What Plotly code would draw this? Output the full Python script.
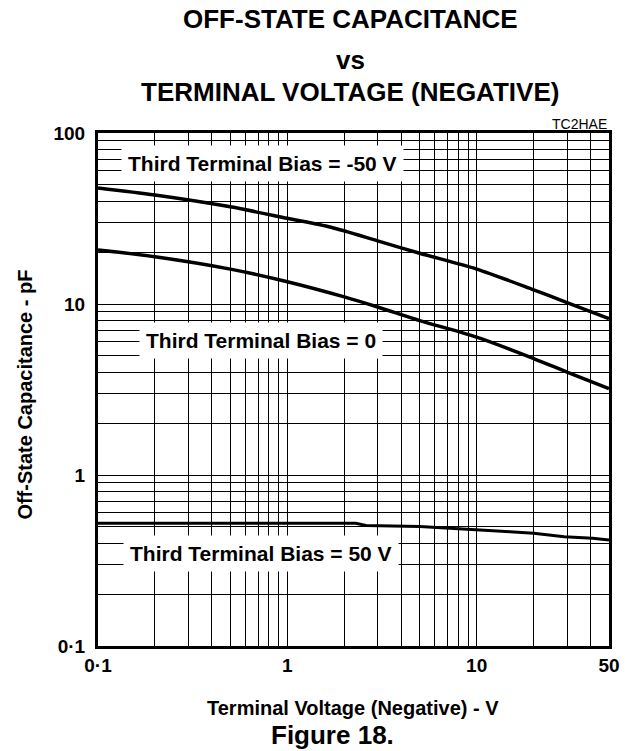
import plotly.graph_objects as go

# (log-log)
v_neg50 = [0.1, 0.2, 0.5, 1, 1.7, 3, 5, 10, 20, 30, 50]
c_neg50 = [47.7, 43.4, 37.0, 31.7, 28.1, 23.4, 19.8, 16.0, 12.1, 10.2, 8.2]

v_zero = [0.1, 0.2, 0.5, 1, 2, 3, 5, 10, 20, 30, 50]
c_zero = [20.7, 18.9, 16.0, 13.5, 11.0, 9.6, 8.0, 6.4, 4.8, 4.0, 3.2]

v_pos50 = [0.1, 1, 2.3, 2.6, 5, 8, 11, 15, 20, 29, 41, 50]
c_pos50 = [0.522, 0.522, 0.522, 0.507, 0.499, 0.485, 0.477, 0.466, 0.456, 0.435, 0.426, 0.417]

x_grid = [0.1, 0.2, 0.3, 0.4, 0.5, 0.6, 0.7, 0.8, 0.9,
          1, 2, 3, 4, 5, 6, 7, 8, 9,
          10, 20, 30, 40, 50]
x_labels = {0.1: '0·1', 1: '1', 10: '10', 50: '50'}
y_grid = [m * d for d in (0.1, 1, 10) for m in range(1, 10)] + [100]
y_labels = {0.1: '0·1', 1: '1', 10: '10', 100: '100'}

font = 'Liberation Sans, Arial, sans-serif'

fig = go.Figure()
for xs, ys, w, shape in [(v_neg50, c_neg50, 3.5, 'spline'), (v_zero, c_zero, 3.5, 'spline'),
                         (v_pos50, c_pos50, 3, 'linear')]:
    fig.add_trace(go.Scatter(x=xs, y=ys, mode='lines',
                             line=dict(color='black', width=w, shape=shape, smoothing=0.8),
                             showlegend=False, hoverinfo='skip'))

fig.update_xaxes(type='log', range=[-1, 1.69897], automargin=False,
                 tickvals=x_grid,
                 ticktext=[x_labels.get(round(v, 6), '') for v in x_grid],
                 showgrid=True, gridcolor='black', gridwidth=1,
                 showline=True, linecolor='black', linewidth=3, mirror=True,
                 ticks='', zeroline=False,
                 tickfont=dict(family=font, size=19, color='black', weight='bold'))
fig.update_yaxes(type='log', range=[-1, 2], automargin=False,
                 tickvals=y_grid,
                 ticktext=[y_labels.get(round(v, 6), '') for v in y_grid],
                 showgrid=True, gridcolor='black', gridwidth=1,
                 showline=True, linecolor='black', linewidth=3, mirror=True,
                 ticks='', zeroline=False, ticklabelstandoff=6,
                 tickfont=dict(family=font, size=19, color='black', weight='bold'))

bold = dict(family=font, color='black', weight='bold')

def px_y(p):
    return (646 - p) / 513.0

def px_x(p):
    return (p - 97.5) / 511.8

labels = [
    ('Third Terminal Bias = -50 V', 262, 163),
    ('Third Terminal Bias = 0', 261, 340.5),
    ('Third Terminal Bias = 50 V', 261, 553),
]
for txt, cx, cy in labels:
    fig.add_annotation(text=txt, xref='paper', yref='paper', x=px_x(cx), y=px_y(cy),
                       xanchor='center', yanchor='middle',
                       showarrow=False, bgcolor='white', borderpad=6,
                       font=dict(size=21, **bold))

titles = [
    ('OFF-STATE CAPACITANCE', 19, 26),
    ('vs', 60, 26),
    ('TERMINAL VOLTAGE (NEGATIVE)', 92.5, 26),
]
for txt, cy, sz in titles:
    fig.add_annotation(text=txt, xref='paper', yref='paper', x=px_x(350), y=px_y(cy),
                       xanchor='center', yanchor='middle',
                       showarrow=False, font=dict(size=sz, **bold))

fig.add_annotation(text='TC2HAE', xref='paper', yref='paper', x=1.0, y=px_y(134),
                   xanchor='right', yanchor='bottom', showarrow=False,
                   font=dict(family=font, size=14, color='black'))
fig.add_annotation(text='Terminal Voltage (Negative) - V', xref='paper', yref='paper',
                   x=px_x(353), y=px_y(708), xanchor='center', yanchor='middle',
                   showarrow=False, font=dict(size=20, **bold))
fig.add_annotation(text='Figure 18.', xref='paper', yref='paper',
                   x=px_x(332), y=px_y(735), xanchor='center', yanchor='middle',
                   showarrow=False, font=dict(size=26, **bold))
fig.add_annotation(text='Off-State Capacitance - pF', xref='paper', yref='paper',
                   x=px_x(24), y=px_y(395), xanchor='center', yanchor='middle',
                   textangle=-90, showarrow=False,
                   font=dict(size=20, **bold))

fig.update_layout(width=625, height=751,
                  margin=dict(l=97.5, r=15.7, t=133, b=105),
                  plot_bgcolor='white', paper_bgcolor='white')

# drop the default 8px page margin so the chart sits at the window's corner
fig.write_html("out.html", config={'displayModeBar': False},
               post_script="document.body.style.margin='0';")
